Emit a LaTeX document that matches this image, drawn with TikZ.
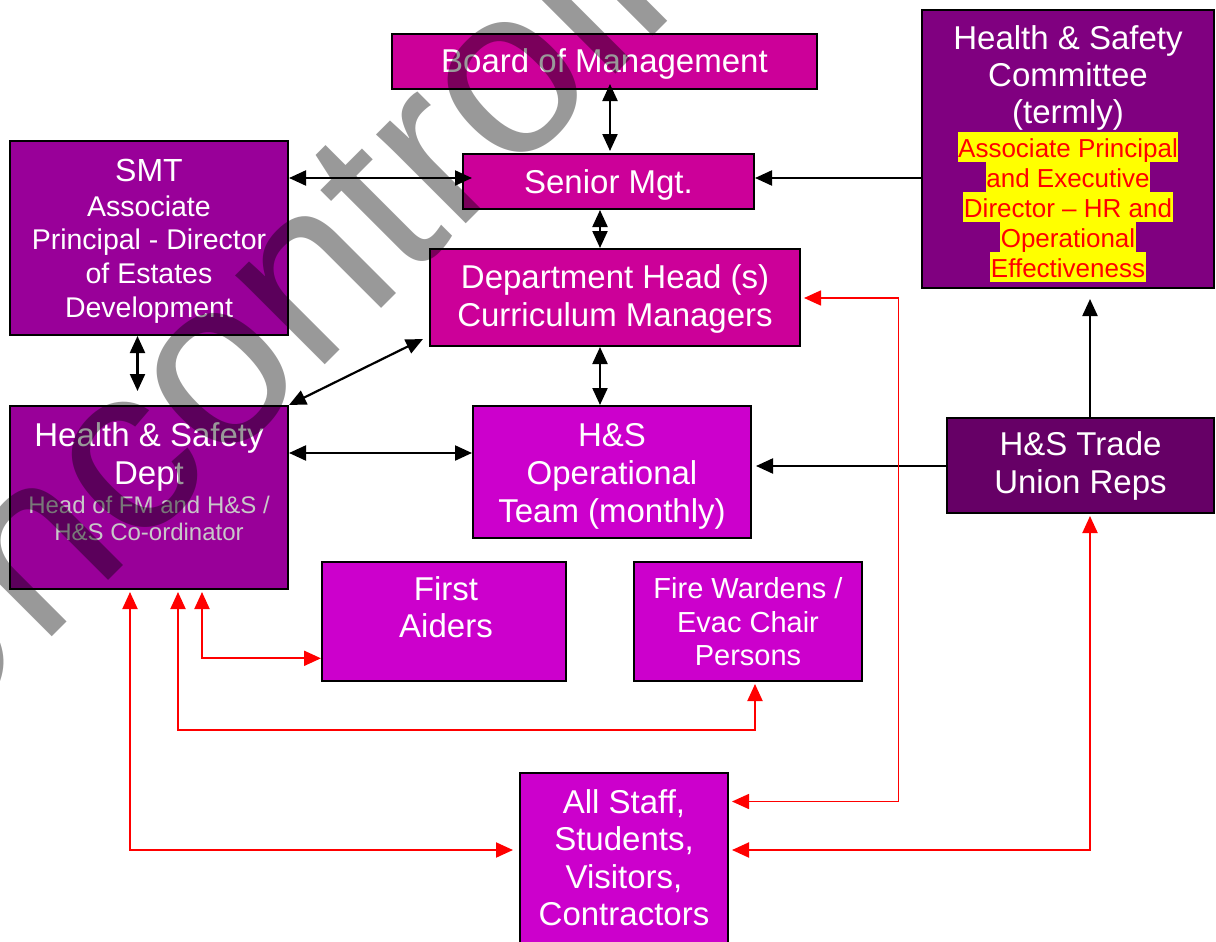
\documentclass[tikz,border=0pt]{standalone}
\usepackage{fontspec}
\setmainfont{Liberation Sans}
\usetikzlibrary{arrows.meta}
\definecolor{mag}{RGB}{204,0,153}
\definecolor{pur}{RGB}{153,0,153}
\definecolor{comm}{RGB}{128,0,128}
\definecolor{tuc}{RGB}{102,0,102}
\definecolor{lil}{RGB}{204,0,204}
\definecolor{silv}{RGB}{200,200,200}
\definecolor{hly}{RGB}{255,255,0}
\definecolor{rdc}{RGB}{255,0,0}
\begin{document}
\begin{tikzpicture}[x=1pt,y=-1pt,
  box/.style={draw=black, line width=2pt, inner sep=0pt, rectangle},
  wt/.style={text=white, inner sep=0pt, anchor=base},
  fbig/.style={font=\fontsize{33}{38}\selectfont},
  fmid/.style={font=\fontsize{28.5}{33}\selectfont},
  fsml/.style={font=\fontsize{24}{27}\selectfont},
  hlt/.style={fill=hly, text=rdc, inner xsep=0.5pt, inner ysep=0pt, text height=25pt, text depth=5pt, anchor=base, font=\fontsize{26}{30}\selectfont},
  blkboth/.style={line width=2.2pt, {Triangle[length=17pt,width=15pt]}-{Triangle[length=17pt,width=15pt]}},
  blkone/.style={line width=2.2pt, -{Triangle[length=17pt,width=15pt]}},
  redboth/.style={draw=rdc, line width=2pt, {Triangle[length=17pt,width=15pt]}-{Triangle[length=17pt,width=15pt]}},
]
\useasboundingbox (0,0) rectangle (1216,942);
\begin{scope}
\clip (0,0) rectangle (1216,942);
\fill[white] (0,0) rectangle (1216,942);

% boxes
\node[box, fill=mag, minimum width=425pt, minimum height=55pt] (bom) at (604.5,61.5) {};
\node[box, fill=mag, minimum width=291pt, minimum height=55pt] (sen) at (608.5,181.5) {};
\node[box, fill=pur, minimum width=278pt, minimum height=194pt] (smt) at (149,238) {};
\node[box, fill=mag, minimum width=370pt, minimum height=97pt] (dep) at (615,297.5) {};
\node[box, fill=comm, minimum width=292pt, minimum height=278pt] (com) at (1068,149) {};
\node[box, fill=tuc, minimum width=267pt, minimum height=95pt] (tu) at (1080.5,465.5) {};
\node[box, fill=lil, minimum width=278pt, minimum height=132pt] (ops) at (612,472) {};
\node[box, fill=pur, minimum width=278pt, minimum height=183pt] (hsd) at (149,497.5) {};
\node[box, fill=lil, minimum width=244pt, minimum height=119pt] (fa) at (444,621.5) {};
\node[box, fill=lil, minimum width=228pt, minimum height=119pt] (fw) at (748,621.5) {};
\node[box, fill=lil, minimum width=208pt, minimum height=187pt] (all) at (624,866.5) {};

% texts
\node[wt, fbig] (tbom) at (604.5,73) {Board of Management};
\node[wt, fbig] (tsen) at (608.5,193) {Senior Mgt.};
\node[wt, font=\fontsize{32}{36}\selectfont] (tsmt1) at (149,181) {SMT};
\node[wt, fmid] (tsmt2) at (149,216) {Associate};
\node[wt, fmid] (tsmt3) at (149,249.5) {Principal - Director};
\node[wt, fmid] (tsmt4) at (149,283) {of Estates};
\node[wt, fmid] (tsmt5) at (149,317) {Development};
\node[wt, fbig] (tdep1) at (615,288) {Department Head (s)};
\node[wt, fbig] (tdep2) at (615,326) {Curriculum Managers};
\node[wt, fbig] (tcom1) at (1068,50) {Health \& Safety};
\node[wt, fbig] (tcom2) at (1068,87) {Committee};
\node[wt, fbig] (tcom3) at (1068,123) {(termly)};
\node[hlt] (tcom4) at (1068,157) {Associate Principal};
\node[hlt] (tcom5) at (1068,187) {and Executive};
\node[hlt] (tcom6) at (1068,217) {Director – HR and};
\node[hlt] (tcom7) at (1068,247) {Operational};
\node[hlt] (tcom8) at (1068,277) {Effectiveness};
\node[wt, fbig] (ttu1) at (1080.5,455.5) {H\&S Trade};
\node[wt, fbig] (ttu2) at (1080.5,493.5) {Union Reps};
\node[wt, fbig] (tops1) at (612,446) {H\&S};
\node[wt, fbig] (tops2) at (612,484) {Operational};
\node[wt, fbig] (tops3) at (612,522) {Team (monthly)};
\node[wt, fbig] (thsd1) at (149,446) {Health \& Safety};
\node[wt, fbig] (thsd2) at (149,484) {Dept};
\node[wt, fsml, text=silv] (thsd3) at (149,513) {Head of FM and H\&S /};
\node[wt, fsml, text=silv] (thsd4) at (149,540) {H\&S Co-ordinator};
\node[wt, fbig] (tfa1) at (446,600) {First};
\node[wt, fbig] (tfa2) at (446,637.5) {Aiders};
\node[wt, font=\fontsize{29}{33}\selectfont] (tfw1) at (748,598) {Fire Wardens /};
\node[wt, font=\fontsize{29}{33}\selectfont] (tfw2) at (748,632) {Evac Chair};
\node[wt, font=\fontsize{29}{33}\selectfont] (tfw3) at (748,665.5) {Persons};
\node[wt, fbig] (tall1) at (624,813) {All Staff,};
\node[wt, fbig] (tall2) at (624,850.5) {Students,};
\node[wt, fbig] (tall3) at (624,888) {Visitors,};
\node[wt, fbig] (tall4) at (624,925.5) {Contractors};

% black connectors
\draw[blkboth] ([xshift=5.5pt,yshift=6pt]bom.south) -- ([xshift=1.5pt,yshift=2pt]sen.north);
\draw[blkboth] ([yshift=60pt]smt.east) -- ([xshift=10pt,yshift=3.5pt]sen.west);
\draw[blkboth] ([xshift=-8.5pt]sen.south) -- ([xshift=-15pt]dep.north);
\draw[blkone] ([yshift=-29pt]com.west) -- ([yshift=3.5pt]sen.east);
\draw[blkboth] ([xshift=-11.5pt]smt.south) -- ([xshift=-11.5pt,yshift=14pt]hsd.north);
\draw[blkboth] (hsd.north east) -- ([xshift=-6pt,yshift=8pt]dep.south west);
\draw[blkboth] ([xshift=-15pt]dep.south) -- ([xshift=-12pt]ops.north);
\draw[blkboth] ([yshift=44.5pt]hsd.east) -- ([yshift=19pt]ops.west);
\draw[blkone] ([yshift=-0.5pt]tu.west) -- ([xshift=4pt,yshift=6pt]ops.east);
\draw[blkone] ([xshift=9.5pt]tu.north) -- ([xshift=22pt,yshift=-10pt]com.south);

% red connectors
\coordinate (depbend) at (898.5,298);
\coordinate (fwbend) at (755,730);
\draw[redboth, line width=1.6pt] ([xshift=3pt,yshift=-0.5pt]dep.east) -- (depbend) |- ([xshift=3pt,yshift=65pt]all.east);
\draw[redboth] ([xshift=9.5pt,yshift=-2pt]tu.south) |- ([xshift=3pt,yshift=16.5pt]all.east);
\draw[redboth] ([xshift=-19pt,yshift=-2pt]hsd.south) |- ([xshift=-6pt,yshift=16.5pt]all.west);
\draw[redboth] ([xshift=29pt,yshift=-2pt]hsd.south) |- (fwbend) -- ([xshift=7pt,yshift=-2pt]fw.south);
\draw[redboth] ([xshift=53pt,yshift=-2pt]hsd.south) |- ([yshift=-36.8pt]fa.west);

% watermark
\node[rotate=45, anchor=base west, inner sep=0pt, text=black, opacity=0.4, text opacity=0.4,
      font=\fontsize{239}{239}\selectfont] (wm) at (-81.4,771) {Uncontrolled};
\end{scope}
\end{tikzpicture}
\end{document}
